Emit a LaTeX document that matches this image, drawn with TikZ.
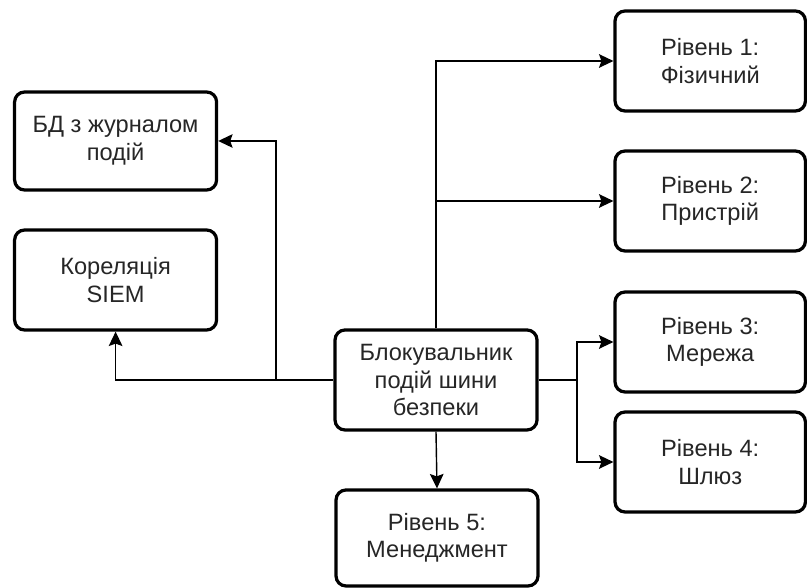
\documentclass[tikz,border=0pt]{standalone}
\usepackage{fontspec}
\setmainfont{Liberation Sans}
\usepackage{tikz}
\usetikzlibrary{arrows.meta,calc}

\tikzset{
  box/.style={draw=black, line width=2.3pt, rounded corners=0.25cm, fill=white,
    align=center, inner sep=0pt, minimum width=5.05cm, minimum height=2.5cm,
    text=black!85, font=\fontsize{16.8}{19.6}\selectfont},
  rbox/.style={box, minimum width=4.76cm},
  link/.style={line width=1pt, -{Stealth[length=0.36cm, width=0.34cm, inset=0.06cm]}}
}

\begin{document}
\begin{tikzpicture}[scale=1.0]
  \useasboundingbox (0,0) rectangle (20.175,14.7);

  % Left side
  \node[box, minimum height=2.45cm] (db) at (2.89,11.175) {БД з журналом\\подій};
  \node[box] (siem) at (2.89,7.7) {Кореляція\\SIEM};

  % Central blocker
  \node[box] (bus) at (10.9,5.2) {Блокувальник\\подій шини\\безпеки};
  \node[box, minimum height=2.4cm] (l5) at (10.925,1.25) {Рівень 5:\\Менеджмент};

  % Right side levels
  \node[rbox] (l1) at (17.756,13.175) {Рівень 1:\\Фізичний};
  \node[rbox] (l2) at (17.756,9.675) {Рівень 2:\\Пристрій};
  \node[rbox] (l3) at (17.756,6.15) {Рівень 3:\\Мережа};
  \node[rbox] (l4) at (17.756,3.15) {Рівень 4:\\Шлюз};

  % Junctions
  \coordinate (jr) at (14.425,5.2);
  \coordinate (jl) at (6.9,5.2);

  % Connectors
  \draw[link] (bus.north) |- (l1.west);
  \draw[link] (bus.north) |- (l2.west);
  \draw[line width=1pt] (bus.east) -- (jr);
  \draw[link] (jr) |- (l3.west);
  \draw[link] (jr) |- (l4.west);
  \draw[link] (bus.south) -- (l5.north);
  \draw[link] (bus.west) -| (siem.south);
  \draw[link] (jl) |- (db.east);
\end{tikzpicture}
\end{document}
